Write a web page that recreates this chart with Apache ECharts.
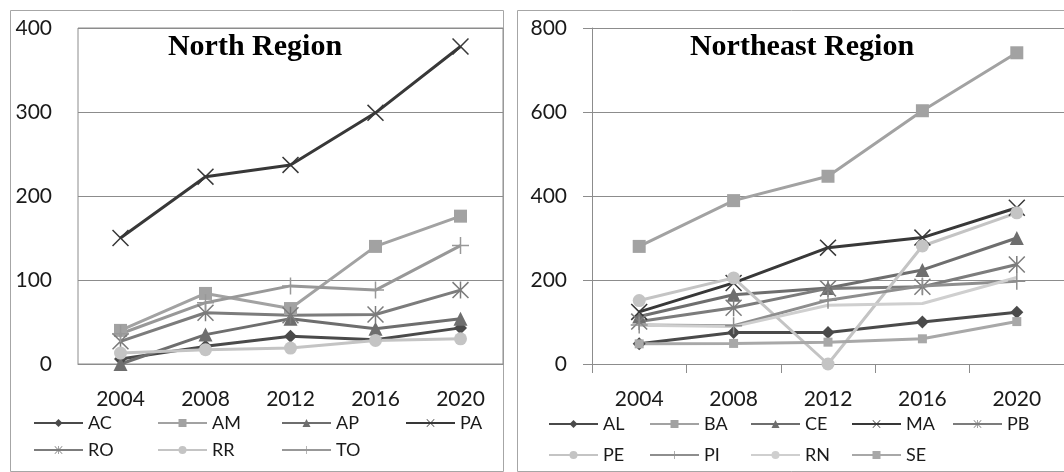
<!DOCTYPE html>
<html>
<head>
<meta charset="utf-8">
<script src="https://cdn.jsdelivr.net/npm/echarts@6/dist/echarts.min.js"></script>
<style>
html,body{margin:0;padding:0;background:#fff;}
#c{width:1064px;height:472px;}
</style>
</head>
<body>
<div id="c"></div>
<script>
// ---- data ----
const years = ['2004', '2008', '2012', '2016', '2020'];
const northTicks = [0, 100, 200, 300, 400];
const neTicks = [0, 200, 400, 600, 800];

const northNames = ['AC', 'AM', 'AP', 'PA', 'RO', 'RR', 'TO'];
const north_AC = [6, 21, 33, 29, 43];
const north_AM = [40, 84, 66, 140, 176];
const north_AP = [0, 35, 54, 42, 54];
const north_PA = [150, 223, 237, 299, 378];
const north_RO = [27, 61, 58, 59, 88];
const north_RR = [13, 17, 19, 28, 30];
const north_TO = [36, 73, 93, 88, 141];

const neNames = ['AL', 'BA', 'CE', 'MA', 'PB', 'PE', 'PI', 'RN', 'SE'];
const ne_AL = [48, 75, 75, 100, 123];
const ne_BA = [280, 389, 447, 603, 741];
const ne_CE = [113, 165, 181, 224, 300];
const ne_MA = [124, 193, 277, 301, 372];
const ne_PB = [101, 134, 180, 184, 237];
const ne_PE = [151, 205, 0, 281, 360];
const ne_PI = [93, 91, 152, 186, 197];
const ne_RN = [92, 89, 140, 144, 206];
const ne_SE = [48, 49, 52, 60, 101];

// ---- styles ----
const SYM_X = 'path://M0,1L1,0L8,7L15,0L16,1L9,8L16,15L15,16L8,9L1,16L0,15L7,8Z';
const SYM_AST = 'path://M0,1L1,0L8,7L15,0L16,1L9,8L16,15L15,16L8,9L1,16L0,15L7,8Z M7.3,0L8.7,0L8.7,16L7.3,16Z';
const SYM_PLUS = 'path://M7.3,0L8.7,0L8.7,7.3L16,7.3L16,8.7L8.7,8.7L8.7,16L7.3,16L7.3,8.7L0,8.7L0,7.3L7.3,7.3Z';
const SYM_DASH = 'path://M0,0L10,0L10,3L0,3Z';

const GRID_C = '#8c8c8c';
const FONT = 'Lato, "Open Sans", sans-serif';

function mk(name, data, idx, color, symbol, size) {
  return {
    name: name, type: 'line', data: data,
    xAxisIndex: idx, yAxisIndex: idx,
    symbol: symbol, symbolSize: size,
    showSymbol: symbol !== 'none',
    lineStyle: {color: color, width: 3},
    itemStyle: {color: color, borderWidth: 0},
    emphasis: {disabled: true},
    animation: false
  };
}

const series = [
  mk('AC', north_AC, 0, '#4a4a4a', 'diamond', 13),
  mk('AM', north_AM, 0, '#a2a2a2', 'rect', 13),
  mk('AP', north_AP, 0, '#6e6e6e', 'triangle', 14),
  mk('PA', north_PA, 0, '#383838', SYM_X, 17),
  mk('RO', north_RO, 0, '#7c7c7c', SYM_AST, 17),
  mk('RR', north_RR, 0, '#c4c4c4', 'circle', 13),
  mk('TO', north_TO, 0, '#989898', SYM_PLUS, 17),

  mk('AL', ne_AL, 1, '#4a4a4a', 'diamond', 13),
  mk('BA', ne_BA, 1, '#a2a2a2', 'rect', 13),
  mk('CE', ne_CE, 1, '#6e6e6e', 'triangle', 14),
  mk('MA', ne_MA, 1, '#383838', SYM_X, 17),
  mk('PB', ne_PB, 1, '#7c7c7c', SYM_AST, 17),
  mk('PE', ne_PE, 1, '#c4c4c4', 'circle', 13),
  mk('PI', ne_PI, 1, '#8e8e8e', SYM_PLUS, 17),
  mk('RN', ne_RN, 1, '#cfcfcf', 'none', 1),
  mk('SE', ne_SE, 1, '#a8a8a8', SYM_DASH, 9)
];

const labelStyle = {color: '#1a1a1a', fontSize: 21, fontFamily: FONT};

const option = {
  backgroundColor: '#fff',
  animation: false,
  graphic: [
    {type: 'rect', shape: {x: 10.5, y: 10.5, width: 493, height: 461}, style: {fill: 'none', stroke: '#a6a6a6', lineWidth: 1}, z: -1},
    {type: 'rect', shape: {x: 517.5, y: 10.5, width: 600, height: 461}, style: {fill: 'none', stroke: '#a6a6a6', lineWidth: 1}, z: -1}
  ],
  title: [
    {text: 'North Region', left: 250, top: 27, textAlign: 'center',
     textStyle: {fontFamily: '"Liberation Serif", "Times New Roman", serif', fontWeight: 'bold', fontSize: 30, color: '#000'}},
    {text: 'Northeast Region', left: 797, top: 27, textAlign: 'center',
     textStyle: {fontFamily: '"Liberation Serif", "Times New Roman", serif', fontWeight: 'bold', fontSize: 30, color: '#000'}}
  ],
  legend: [
    {data: northNames, left: 33, top: 414, width: 500, orient: 'horizontal',
     itemWidth: 49, itemHeight: 10, itemGap: 9, padding: 0, symbolKeepAspect: false,
     textStyle: {fontFamily: FONT, fontSize: 18, color: '#1a1a1a', width: 60, lineHeight: 16}},
    {data: neNames, left: 548, top: 415, width: 495, orient: 'horizontal',
     itemWidth: 49, itemHeight: 10, itemGap: 13, padding: 0, symbolKeepAspect: false,
     textStyle: {fontFamily: FONT, fontSize: 18, color: '#1a1a1a', width: 33, lineHeight: 16}}
  ],
  grid: [
    {left: 78, top: 28, width: 425, height: 336, show: true, borderColor: GRID_C, borderWidth: 1, containLabel: false},
    {left: 592, top: 28, right: -13, height: 336, containLabel: false}
  ],
  xAxis: [
    {type: 'category', gridIndex: 0, data: years, boundaryGap: true,
     axisLine: {show: true, lineStyle: {color: GRID_C}}, axisTick: {show: false},
     axisLabel: Object.assign({margin: 25, interval: 0}, labelStyle), splitLine: {show: false}},
    {type: 'category', gridIndex: 1, data: years, boundaryGap: true,
     axisLine: {show: true, lineStyle: {color: GRID_C}}, axisTick: {show: true, length: 9, lineStyle: {color: GRID_C}},
     axisLabel: Object.assign({margin: 25, interval: 0}, labelStyle), splitLine: {show: false}}
  ],
  yAxis: [
    {type: 'value', gridIndex: 0, min: northTicks[0], max: northTicks[northTicks.length - 1], interval: northTicks[1] - northTicks[0],
     axisLine: {show: false}, axisTick: {show: false},
     axisLabel: Object.assign({margin: 26}, labelStyle),
     splitLine: {show: true, lineStyle: {color: GRID_C, width: 1}}},
    {type: 'value', gridIndex: 1, min: neTicks[0], max: neTicks[neTicks.length - 1], interval: neTicks[1] - neTicks[0],
     axisLine: {show: true, lineStyle: {color: GRID_C}}, axisTick: {show: true, length: 9, lineStyle: {color: GRID_C}},
     axisLabel: Object.assign({margin: 25}, labelStyle),
     splitLine: {show: true, lineStyle: {color: GRID_C, width: 1}}}
  ],
  series: series
};

const chart = echarts.init(document.getElementById('c'), null, {renderer: 'canvas'});
chart.setOption(option);
</script>
</body>
</html>
